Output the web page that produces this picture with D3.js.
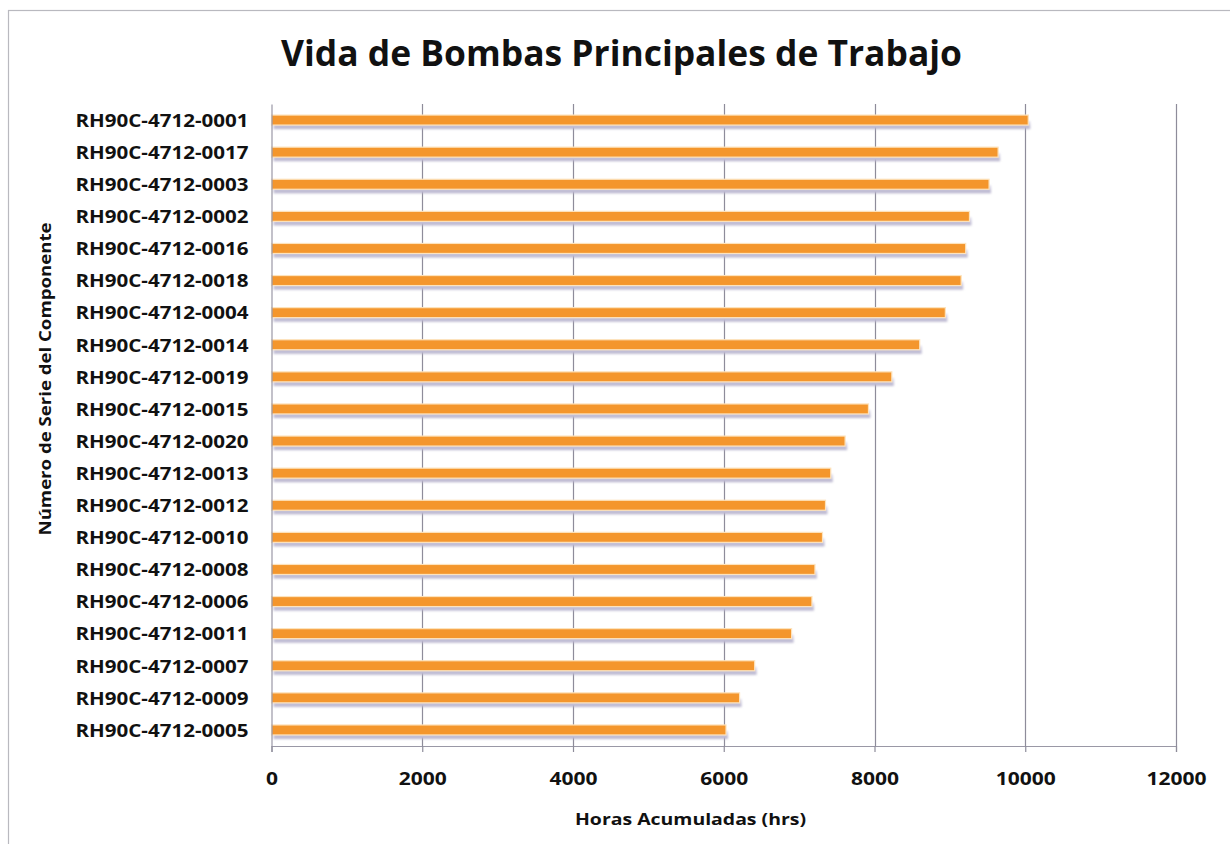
<!DOCTYPE html>
<html>
<head>
<meta charset="utf-8">
<script src="https://cdn.jsdelivr.net/npm/d3@7"></script>
<style>
  html, body { margin: 0; padding: 0; background: #ffffff; }
  svg { display: block; }
  text { font-family: "Open Sans", "DejaVu Sans", sans-serif; font-weight: 700; fill: #111; }
</style>
</head>
<body>
<svg id="chart" width="1230" height="844"></svg>
<script>
// Component serial numbers, top to bottom
const categories = [
  "RH90C-4712-0001", "RH90C-4712-0017", "RH90C-4712-0003", "RH90C-4712-0002",
  "RH90C-4712-0016", "RH90C-4712-0018", "RH90C-4712-0004", "RH90C-4712-0014",
  "RH90C-4712-0019", "RH90C-4712-0015", "RH90C-4712-0020", "RH90C-4712-0013",
  "RH90C-4712-0012", "RH90C-4712-0010", "RH90C-4712-0008", "RH90C-4712-0006",
  "RH90C-4712-0011", "RH90C-4712-0007", "RH90C-4712-0009", "RH90C-4712-0005"
];
// Accumulated operating hours per pump
const hours = [
  10040, 9640, 9520, 9260,
  9210, 9150, 8940, 8600,
  8230, 7920, 7610, 7420,
  7350, 7310, 7210, 7170,
  6900, 6410, 6210, 6030
];
const xTicks = [0, 2000, 4000, 6000, 8000, 10000, 12000];

const title = "Vida de Bombas Principales de Trabajo";
const xTitle = "Horas Acumuladas  (hrs)";
const yTitle = "Número de Serie del Componente";

const data = categories.map((c, i) => ({ name: c, value: hours[i] }));

const svg = d3.select("#chart");

// chart frame
svg.append("rect")
  .attr("x", 8.5).attr("y", 10.5)
  .attr("width", 1240).attr("height", 850)
  .attr("fill", "none").attr("stroke", "#b9b9bf").attr("stroke-width", 1.2);

const plot = { left: 271.5, right: 1176, top: 104, bottom: 746 };

const x = d3.scaleLinear().domain([0, 12000]).range([plot.left, plot.right]);
const y = d3.scaleBand().domain(categories).range([plot.top, plot.bottom]);

// soft shadow under each bar
const defs = svg.append("defs");
defs.append("filter").attr("id", "soft")
  .attr("x", "-5%").attr("y", "-50%").attr("width", "110%").attr("height", "200%")
  .append("feGaussianBlur").attr("stdDeviation", 0.8);
const grad = defs.append("linearGradient").attr("id", "shade")
  .attr("x1", 0).attr("y1", 0).attr("x2", 0).attr("y2", 1);
grad.append("stop").attr("offset", "0%").attr("stop-color", "#e2e0ee");
grad.append("stop").attr("offset", "100%").attr("stop-color", "#b3afca");

// vertical gridlines
svg.append("g")
  .selectAll("line")
  .data(xTicks.slice(1))
  .join("line")
  .attr("x1", d => Math.round(x(d)) + 0.5)
  .attr("x2", d => Math.round(x(d)) + 0.5)
  .attr("y1", plot.top)
  .attr("y2", plot.bottom)
  .attr("stroke", "#8e8c9a")
  .attr("stroke-width", 1.2);

const barH = 10;

// bar shadows
svg.append("g")
  .selectAll("rect")
  .data(data)
  .join("rect")
  .attr("x", x(0) + 2)
  .attr("y", d => y(d.name) + y.bandwidth() / 2 - barH / 2 + 6)
  .attr("width", d => x(d.value) - x(0))
  .attr("height", barH - 2)
  .attr("fill", "url(#shade)")
  .attr("filter", "url(#soft)");

// bars
svg.append("g")
  .selectAll("rect")
  .data(data)
  .join("rect")
  .attr("x", x(0))
  .attr("y", d => y(d.name) + y.bandwidth() / 2 - barH / 2)
  .attr("width", d => x(d.value) - x(0))
  .attr("height", barH)
  .attr("fill", "#f4962c")
  .attr("stroke", "#fde3bd")
  .attr("stroke-width", 1.2);

// x axis
const xAxis = svg.append("g")
  .attr("transform", `translate(0,${plot.bottom})`)
  .call(d3.axisBottom(x).tickValues(xTicks).tickSize(6).tickFormat(d3.format("d")));
xAxis.select(".domain").attr("stroke", "#9a98a6").attr("stroke-width", 1.2);
xAxis.selectAll(".tick line").attr("stroke", "#8e8c9a").attr("stroke-width", 1.2);
xAxis.selectAll(".tick text")
  .attr("y", 39)
  .attr("dy", 0)
  .attr("font-size", 18)
  .attr("font-family", "Open Sans, sans-serif")
  .attr("font-weight", 700)
  .attr("fill", "#111")
  .attr("textLength", d => String(d).length * 12)
  .attr("lengthAdjust", "spacingAndGlyphs");

// y axis
const yAxis = svg.append("g")
  .attr("transform", `translate(${plot.left},0)`)
  .call(d3.axisLeft(y).tickSize(0).tickPadding(23));
yAxis.select(".domain").attr("stroke", "#9a98a6").attr("stroke-width", 1.2);
yAxis.selectAll(".tick text")
  .attr("dy", "0.38em")
  .attr("font-size", 18)
  .attr("font-family", "Open Sans, sans-serif")
  .attr("font-weight", 700)
  .attr("fill", "#111")
  .attr("textLength", 173)
  .attr("lengthAdjust", "spacingAndGlyphs");

// title
svg.append("text")
  .attr("x", 621.5).attr("y", 66)
  .attr("text-anchor", "middle")
  .attr("font-size", 36)
  .attr("textLength", 681)
  .attr("lengthAdjust", "spacingAndGlyphs")
  .text(title);

// x axis title
svg.append("text")
  .attr("x", 690.5).attr("y", 825)
  .attr("text-anchor", "middle")
  .attr("font-size", 16)
  .attr("textLength", 231)
  .attr("lengthAdjust", "spacingAndGlyphs")
  .text(xTitle);

// y axis title
svg.append("text")
  .attr("transform", "translate(51,379) rotate(-90)")
  .attr("text-anchor", "middle")
  .attr("font-size", 16)
  .attr("textLength", 313)
  .attr("lengthAdjust", "spacingAndGlyphs")
  .text(yTitle);
</script>
</body>
</html>
